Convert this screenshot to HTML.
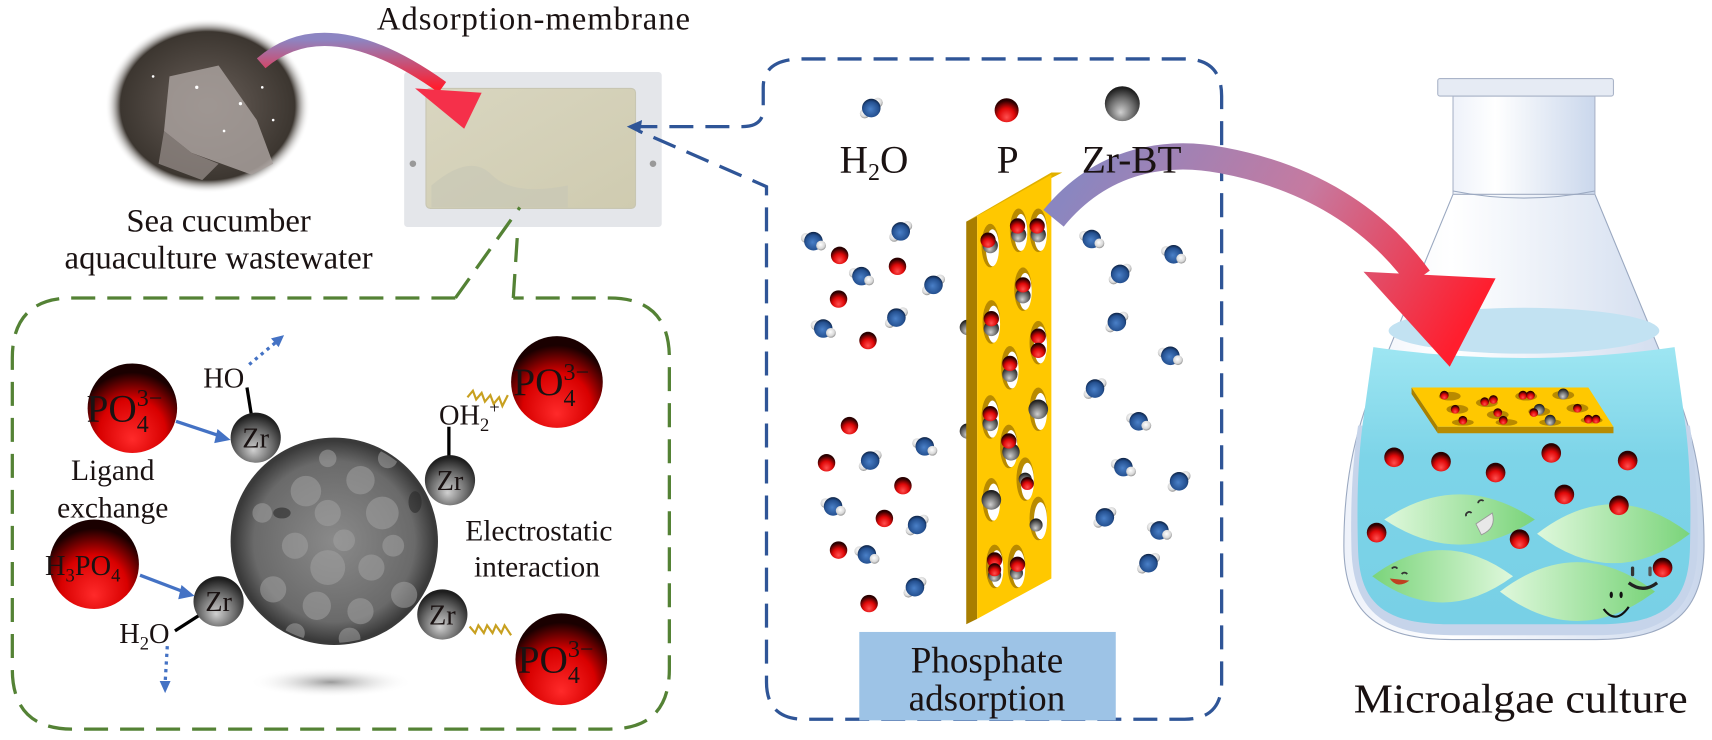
<!DOCTYPE html>
<html><head><meta charset="utf-8"><style>
html,body{margin:0;padding:0;background:#fff;}
svg{display:block;}
text{font-family:"Liberation Serif",serif;fill:#1a1212;}
</style></head><body>
<svg width="1712" height="740" viewBox="0 0 1568 678" xmlns="http://www.w3.org/2000/svg">
<defs>
<radialGradient id="red" cx="0.5" cy="0.7" r="0.6" fx="0.5" fy="0.8">
<stop offset="0" stop-color="#ff5050"/><stop offset="0.55" stop-color="#e00808"/><stop offset="1" stop-color="#2a0000"/></radialGradient>
<radialGradient id="bigred" cx="0.5" cy="0.72" r="0.62" fx="0.5" fy="0.85">
<stop offset="0" stop-color="#ff2a2a"/><stop offset="0.6" stop-color="#d80000"/><stop offset="1" stop-color="#1a0000"/></radialGradient>
<radialGradient id="gray" cx="0.5" cy="0.65" r="0.6" fx="0.45" fy="0.75">
<stop offset="0" stop-color="#d0d0d0"/><stop offset="0.6" stop-color="#6a6a6a"/><stop offset="1" stop-color="#1e1e1e"/></radialGradient>
<radialGradient id="blue" cx="0.5" cy="0.6" r="0.6" fx="0.45" fy="0.55">
<stop offset="0" stop-color="#4a80c8"/><stop offset="0.7" stop-color="#245090"/><stop offset="1" stop-color="#0c2040"/></radialGradient>
<radialGradient id="white" cx="0.45" cy="0.4" r="0.6">
<stop offset="0" stop-color="#ffffff"/><stop offset="0.7" stop-color="#d8d8d8"/><stop offset="1" stop-color="#909090"/></radialGradient>
<radialGradient id="sem" cx="0.5" cy="0.5" r="0.5">
<stop offset="0" stop-color="#8a8a8a"/><stop offset="0.8" stop-color="#6a6a6a"/><stop offset="1" stop-color="#3a3a3a"/></radialGradient>
<radialGradient id="shadow" cx="0.5" cy="0.5" r="0.5">
<stop offset="0" stop-color="#9a9a9a"/><stop offset="1" stop-color="#ffffff" stop-opacity="0"/></radialGradient>
<radialGradient id="photo" cx="0.5" cy="0.5" r="0.5">
<stop offset="0" stop-color="#6a605a"/><stop offset="0.85" stop-color="#3c3630"/><stop offset="1" stop-color="#fff" stop-opacity="0"/></radialGradient>
<linearGradient id="arrow1" x1="0" y1="0" x2="0" y2="1">
<stop offset="0" stop-color="#8d85c2"/><stop offset="1" stop-color="#ff1e2e"/></linearGradient>
<linearGradient id="arrow2" gradientUnits="userSpaceOnUse" x1="1000" y1="140" x2="1320" y2="335">
<stop offset="0" stop-color="#8a86c0"/><stop offset="0.5" stop-color="#c67aa0"/><stop offset="1" stop-color="#ff1e2e"/></linearGradient>
<linearGradient id="glass" x1="0" y1="0" x2="1" y2="0">
<stop offset="0" stop-color="#eef2fa"/><stop offset="0.3" stop-color="#ffffff"/><stop offset="1" stop-color="#cad7ec"/></linearGradient>
<linearGradient id="water" x1="0" y1="0" x2="0" y2="1">
<stop offset="0" stop-color="#9ee6f2"/><stop offset="0.4" stop-color="#7dd4e8"/><stop offset="1" stop-color="#78d0e6"/></linearGradient>
<linearGradient id="leafA" x1="0" y1="0" x2="1" y2="0">
<stop offset="0" stop-color="#dff8dc"/><stop offset="1" stop-color="#7ad47a"/></linearGradient>
<linearGradient id="leafB" x1="1" y1="0" x2="0" y2="0">
<stop offset="0" stop-color="#dff8dc"/><stop offset="1" stop-color="#7ad47a"/></linearGradient>
<linearGradient id="memb" x1="0" y1="0" x2="1" y2="1">
<stop offset="0" stop-color="#d9d6c0"/><stop offset="1" stop-color="#cfcbb0"/></linearGradient>
<clipPath id="semclip"><circle cx="306" cy="496" r="93"/></clipPath>
<g id="w"><circle cx="-7" cy="-3" r="4.5" fill="url(#white)"/><circle cx="0" cy="0" r="8.5" fill="url(#blue)"/><circle cx="7" cy="4" r="4.5" fill="url(#white)"/></g>
<g id="w2"><circle cx="6" cy="-5" r="4.5" fill="url(#white)"/><circle cx="-6" cy="5" r="4.5" fill="url(#white)"/><circle cx="0" cy="0" r="8.5" fill="url(#blue)"/></g>
<circle id="p" r="8" fill="url(#red)"/>
</defs>

<!-- Top-left photo -->
<ellipse cx="190" cy="97" rx="94" ry="80" fill="url(#photo)"/>
<path d="M155,70 L200,60 L235,110 L250,150 L230,160 L175,140 L150,120 Z" fill="#a8a09c" opacity="0.85"/>
<path d="M150,120 L175,140 L200,150 L185,165 L145,150 Z" fill="#8e8682" opacity="0.8"/>
<g fill="#fff"><circle cx="180" cy="80" r="1.5"/><circle cx="220" cy="95" r="1.5"/><circle cx="240" cy="80" r="1.2"/><circle cx="250" cy="110" r="1.2"/><circle cx="140" cy="70" r="1.2"/><circle cx="205" cy="120" r="1.2"/></g>

<text x="345" y="27" font-size="30" textLength="287">Adsorption-membrane</text>

<!-- membrane -->
<rect x="370" y="66" width="236" height="142" fill="#e4e6ea" rx="3"/>
<rect x="390" y="81" width="192" height="110" fill="url(#memb)" rx="4" stroke="#c8c6b2"/>
<path d="M395,170 Q430,140 450,160 T520,170 L520,190 L395,190 Z" fill="#c6c7b6" opacity="0.6"/>
<circle cx="378" cy="150" r="3" fill="#999"/><circle cx="598" cy="150" r="3" fill="#999"/>

<!-- pink arrow -->
<path d="M239,58 Q300,5 405,80" fill="none" stroke="url(#arrow1)" stroke-width="12"/>
<polygon points="380,81 441,85 425,118" fill="#f5304a"/>

<text x="200" y="212" font-size="30" text-anchor="middle">Sea cucumber</text>
<text x="200" y="246" font-size="30" text-anchor="middle">aquaculture wastewater</text>

<!-- green dashed box -->
<g fill="none" stroke="#548235" stroke-width="3" stroke-dasharray="22,11">
<path d="M417,273 L66,273 Q11,273 11,328 L11,613 Q11,668 66,668 L558,668 Q613,668 613,613 L613,328 Q613,273 558,273 L470,273"/>
<path d="M417,273 L476,190"/>
<path d="M470,273 L474,212"/>
</g>

<!-- SEM sphere -->
<ellipse cx="303" cy="625" rx="75" ry="14" fill="url(#shadow)"/>
<circle cx="306" cy="496" r="95" fill="#3a3a3a"/>
<circle cx="306" cy="496" r="92" fill="url(#sem)"/>
<g clip-path="url(#semclip)" fill="#a0a0a0" opacity="0.55">
<circle cx="280" cy="450" r="14"/><circle cx="300" cy="470" r="12"/><circle cx="330" cy="440" r="13"/><circle cx="350" cy="470" r="15"/><circle cx="270" cy="500" r="12"/><circle cx="300" cy="520" r="16"/><circle cx="340" cy="520" r="12"/><circle cx="360" cy="500" r="10"/><circle cx="250" cy="540" r="12"/><circle cx="290" cy="555" r="13"/><circle cx="330" cy="560" r="12"/><circle cx="370" cy="545" r="12"/><circle cx="240" cy="470" r="9"/><circle cx="315" cy="495" r="10"/><circle cx="355" cy="420" r="9"/><circle cx="300" cy="420" r="8"/><circle cx="270" cy="580" r="9"/><circle cx="320" cy="585" r="10"/>
</g>
<g clip-path="url(#semclip)" fill="#2a2a2a" opacity="0.6"><ellipse cx="258" cy="470" rx="8" ry="5"/><ellipse cx="380" cy="460" rx="6" ry="10"/></g>

<!-- Zr spheres and bonds -->
<g stroke="#000" stroke-width="3">
<line x1="226" y1="355" x2="230" y2="380"/>
<line x1="411" y1="391" x2="411" y2="420"/>
<line x1="185" y1="562" x2="160" y2="578"/>
</g>
<g>
<circle cx="234" cy="401" r="23" fill="url(#gray)"/>
<circle cx="412" cy="440" r="23" fill="url(#gray)"/>
<circle cx="200" cy="551" r="23" fill="url(#gray)"/>
<circle cx="405" cy="563" r="23" fill="url(#gray)"/>
</g>
<g font-size="26" text-anchor="middle">
<text x="234" y="410">Zr</text><text x="412" y="449">Zr</text><text x="200" y="560">Zr</text><text x="405" y="572">Zr</text>
</g>
<text x="186" y="355" font-size="26">HO</text>
<text x="402" y="389" font-size="26">OH<tspan font-size="17" dy="6">2</tspan><tspan font-size="17" dy="-16">+</tspan></text>
<text x="109" y="589" font-size="26">H<tspan font-size="17" dy="6">2</tspan><tspan dy="-6">O</tspan></text>

<!-- big red spheres -->
<circle cx="121" cy="374" r="41" fill="url(#bigred)"/>
<circle cx="86" cy="517" r="41" fill="url(#bigred)"/>
<circle cx="510" cy="350" r="42" fill="url(#bigred)"/>
<circle cx="514" cy="604" r="42" fill="url(#bigred)"/>
<text x="79" y="386" font-size="36">PO<tspan font-size="22" dy="10">4</tspan><tspan font-size="22" dx="-11" dy="-24">3−</tspan></text>
<text x="470" y="362" font-size="36">PO<tspan font-size="22" dy="10">4</tspan><tspan font-size="22" dx="-11" dy="-24">3−</tspan></text>
<text x="474" y="616" font-size="36">PO<tspan font-size="22" dy="10">4</tspan><tspan font-size="22" dx="-11" dy="-24">3−</tspan></text>
<text x="41" y="527" font-size="26">H<tspan font-size="17" dy="6">3</tspan><tspan dy="-6">PO</tspan><tspan font-size="17" dy="6">4</tspan></text>

<!-- blue arrows -->
<g stroke="#4472c4" stroke-width="3" fill="#4472c4">
<line x1="161" y1="386" x2="203" y2="400"/>
<line x1="128" y1="527" x2="170" y2="543"/>
<line x1="228" y1="334" x2="252" y2="314" stroke-dasharray="3,4"/>
<line x1="153" y1="592" x2="151" y2="626" stroke-dasharray="3,4"/>
</g>
<g fill="#4472c4">
<polygon points="211,403 199,393 196,406"/>
<polygon points="178,546 166,536 163,549"/>
<polygon points="260,307 248,310 255,318"/>
<polygon points="151,635 146,624 156,624"/>
</g>
<!-- wavy -->
<g fill="none" stroke="#c8a020" stroke-width="2">
<path d="M428,364 l5,-6 l3,8 l5,-6 l3,8 l5,-6 l3,8 l5,-6 l3,8 l5,-10"/>
<path d="M430,574 l5,6 l3,-7 l5,7 l3,-7 l5,7 l3,-7 l5,7 l3,-7 l6,9"/>
</g>

<text x="103" y="440" font-size="27" text-anchor="middle">Ligand</text>
<text x="103" y="474" font-size="27" text-anchor="middle">exchange</text>
<text x="426" y="495" font-size="27">Electrostatic</text>
<text x="434" y="528" font-size="27">interaction</text>

<!-- blue dashed box -->
<g fill="none" stroke="#2f5597" stroke-width="3" stroke-dasharray="22,11">
<path d="M580,116 L680,116 Q699,116 699,100 L699,80 Q699,54 735,54 L1085,54 Q1119,54 1119,88 L1119,625 Q1119,659 1085,659 L737,659 Q702,659 702,625 L702,171 L585,120"/>
</g>
<polygon points="574,116 588,110 586,122" fill="#2f5597"/>

<!-- legend -->
<g transform="translate(798,99)"><use href="#w2"/></g>
<circle cx="922" cy="101" r="11" fill="url(#red)"/>
<circle cx="1028" cy="95" r="16" fill="url(#gray)"/>
<text x="769" y="158" font-size="36">H<tspan font-size="22" dy="7">2</tspan><tspan dy="-7">O</tspan></text>
<text x="913" y="158" font-size="36">P</text>

<!-- molecules -->
<g>
<use href="#w" x="745" y="221"/><use href="#w2" x="825" y="212"/><use href="#w" x="789" y="253"/><use href="#w2" x="855" y="261"/><use href="#w" x="754" y="301"/><use href="#w2" x="821" y="291"/><use href="#w" x="847" y="409"/><use href="#w2" x="797" y="422"/><use href="#w" x="763" y="464"/><use href="#w2" x="840" y="481"/><use href="#w" x="794" y="508"/><use href="#w2" x="838" y="538"/>
<use href="#w" x="1000" y="219"/><use href="#w2" x="1026" y="251"/><use href="#w" x="1075" y="233"/><use href="#w2" x="1023" y="295"/><use href="#w" x="1072" y="326"/><use href="#w2" x="1003" y="356"/><use href="#w" x="1043" y="386"/><use href="#w2" x="1080" y="441"/><use href="#w" x="1029" y="428"/><use href="#w2" x="1012" y="474"/><use href="#w" x="1062" y="486"/><use href="#w2" x="1052" y="516"/>
<use href="#p" x="769" y="234"/><use href="#p" x="822" y="244"/><use href="#p" x="768" y="274"/><use href="#p" x="795" y="312"/><use href="#p" x="778" y="390"/><use href="#p" x="757" y="424"/><use href="#p" x="827" y="445"/><use href="#p" x="810" y="475"/><use href="#p" x="768" y="504"/><use href="#p" x="796" y="553"/>
<circle cx="886" cy="300" r="7" fill="url(#gray)"/><circle cx="886" cy="395" r="7" fill="url(#gray)"/>
</g>

<!-- yellow plate -->
<polygon points="885,203 895,198 895,567 885,572" fill="#a87e00"/>
<polygon points="885,203 963,158 973,158 895,198" fill="#e0b000"/>
<polygon points="895,198 963,160 963,530 895,567" fill="#ffc800"/>
<g>
<g transform="translate(907,225)"><ellipse rx="8" ry="20" fill="#b88a00"/><ellipse cx="2" cy="2" rx="6" ry="17" fill="#fff"/><circle cx="0" cy="0" r="7" fill="url(#gray)"/><circle cx="-2" cy="-5" r="7" fill="url(#red)"/></g>
<g transform="translate(933,211)"><ellipse rx="8" ry="20" fill="#b88a00"/><ellipse cx="2" cy="2" rx="6" ry="17" fill="#fff"/><circle cx="0" cy="4" r="7" fill="url(#gray)"/><circle cx="-1" cy="-4" r="7" fill="url(#red)"/></g>
<g transform="translate(951,211)"><ellipse rx="8" ry="20" fill="#b88a00"/><ellipse cx="2" cy="2" rx="6" ry="17" fill="#fff"/><circle cx="0" cy="4" r="7" fill="url(#gray)"/><circle cx="-1" cy="-4" r="7" fill="url(#red)"/></g>
<g transform="translate(908,295)"><ellipse rx="8" ry="20" fill="#b88a00"/><ellipse cx="2" cy="2" rx="6" ry="17" fill="#fff"/><circle cx="0" cy="6" r="7" fill="url(#gray)"/><circle cx="0" cy="-3" r="7" fill="url(#red)"/></g>
<g transform="translate(937,265)"><ellipse rx="8" ry="20" fill="#b88a00"/><ellipse cx="2" cy="2" rx="6" ry="17" fill="#fff"/><circle cx="0" cy="6" r="7" fill="url(#gray)"/><circle cx="0" cy="-4" r="7" fill="url(#red)"/></g>
<g transform="translate(951,314)"><ellipse rx="8" ry="20" fill="#b88a00"/><ellipse cx="2" cy="2" rx="6" ry="17" fill="#fff"/><circle cx="0" cy="-6" r="7" fill="url(#red)"/><circle cx="0" cy="7" r="7" fill="url(#red)"/></g>
<g transform="translate(925,337)"><ellipse rx="8" ry="20" fill="#b88a00"/><ellipse cx="2" cy="2" rx="6" ry="17" fill="#fff"/><circle cx="0" cy="6" r="7" fill="url(#gray)"/><circle cx="0" cy="-4" r="7" fill="url(#red)"/></g>
<g transform="translate(907,382)"><ellipse rx="8" ry="20" fill="#b88a00"/><ellipse cx="2" cy="2" rx="6" ry="17" fill="#fff"/><circle cx="0" cy="6" r="7" fill="url(#gray)"/><circle cx="0" cy="-3" r="7" fill="url(#red)"/></g>
<g transform="translate(951,375)"><ellipse rx="8" ry="20" fill="#b88a00"/><ellipse cx="2" cy="2" rx="6" ry="17" fill="#fff"/><circle cx="0" cy="0" r="9" fill="url(#gray)"/></g>
<g transform="translate(924,409)"><ellipse rx="8" ry="20" fill="#b88a00"/><ellipse cx="2" cy="2" rx="6" ry="17" fill="#fff"/><circle cx="2" cy="5" r="8" fill="url(#gray)"/><circle cx="0" cy="-5" r="7" fill="url(#red)"/></g>
<g transform="translate(939,439)"><ellipse rx="8" ry="20" fill="#b88a00"/><ellipse cx="2" cy="2" rx="6" ry="17" fill="#fff"/><circle cx="0" cy="0" r="6" fill="url(#gray)"/><circle cx="2" cy="4" r="6" fill="url(#red)"/></g>
<g transform="translate(908,458)"><ellipse rx="8" ry="20" fill="#b88a00"/><ellipse cx="2" cy="2" rx="6" ry="17" fill="#fff"/><circle cx="0" cy="0" r="9" fill="url(#gray)"/></g>
<g transform="translate(951,475)"><ellipse rx="8" ry="20" fill="#b88a00"/><ellipse cx="2" cy="2" rx="6" ry="17" fill="#fff"/><circle cx="-2" cy="6" r="6" fill="url(#gray)"/></g>
<g transform="translate(911,519)"><ellipse rx="8" ry="20" fill="#b88a00"/><ellipse cx="2" cy="2" rx="6" ry="17" fill="#fff"/><circle cx="0" cy="8" r="6" fill="url(#gray)"/><circle cx="0" cy="-6" r="7" fill="url(#red)"/><circle cx="0" cy="3" r="6" fill="url(#red)"/></g>
<g transform="translate(931,519)"><ellipse rx="8" ry="20" fill="#b88a00"/><ellipse cx="2" cy="2" rx="6" ry="17" fill="#fff"/><circle cx="0" cy="6" r="6" fill="url(#gray)"/><circle cx="1" cy="-2" r="7" fill="url(#red)"/></g>
</g>

<!-- Phosphate adsorption -->
<rect x="787" y="579" width="235" height="81" fill="#9dc3e6"/>
<text x="904" y="616" font-size="34" text-anchor="middle">Phosphate</text>
<text x="904" y="651" font-size="34" text-anchor="middle">adsorption</text>

<!-- Flask -->
<path d="M1331,178 L1262,345 C1238,400 1231,450 1231,500 C1231,560 1260,586 1330,586 L1462,586 C1532,586 1561,560 1561,500 C1561,450 1554,400 1530,345 L1461,178 Z" fill="url(#glass)" stroke="#9aa8c0" stroke-width="1"/>
<path d="M1244,390 C1238,430 1237,470 1238,505 C1240,560 1268,582 1330,582 L1462,582 C1524,582 1553,560 1555,505 C1556,470 1554,430 1548,390 Z" fill="#c6d4ea"/>
<path d="M1258,318 L1248,390 C1243,430 1243,470 1244,505 C1246,555 1270,572 1330,572 L1462,572 C1522,572 1546,555 1548,505 C1549,470 1549,430 1544,390 L1534,318 Q1396,338 1258,318 Z" fill="url(#water)"/>
<ellipse cx="1396" cy="303" rx="124" ry="21" fill="#c2e2f2"/>
<rect x="1331" y="88" width="130" height="90" fill="url(#glass)" stroke="#aab4c8"/>
<path d="M1331,175 Q1396,188 1461,175" fill="none" stroke="#9aa8c0"/>
<rect x="1317" y="72" width="161" height="16" rx="2" fill="#e6ebf4" stroke="#aab4c8"/>

<!-- plate in flask -->
<polygon points="1293,355 1293,361 1317,397 1317,391" fill="#a88000"/>
<polygon points="1317,391 1478,391 1478,397 1317,397" fill="#b88c00"/>
<polygon points="1293,355 1455,355 1478,391 1317,391" fill="#ffc800"/>
<g fill="#b88a00">
<ellipse cx="1328" cy="363" rx="10" ry="4"/><ellipse cx="1362" cy="369" rx="10" ry="4"/><ellipse cx="1398" cy="363" rx="10" ry="4"/><ellipse cx="1432" cy="362" rx="10" ry="4"/>
<ellipse cx="1335" cy="375" rx="10" ry="4"/><ellipse cx="1372" cy="380" rx="10" ry="4"/><ellipse cx="1410" cy="377" rx="10" ry="4"/><ellipse cx="1445" cy="374" rx="10" ry="4"/>
<ellipse cx="1340" cy="387" rx="10" ry="3"/><ellipse cx="1380" cy="387" rx="10" ry="3"/><ellipse cx="1420" cy="387" rx="10" ry="3"/><ellipse cx="1458" cy="385" rx="10" ry="3"/>
</g>
<g>
<circle cx="1323" cy="362" r="4" fill="url(#red)"/><circle cx="1360" cy="368" r="4" fill="url(#red)"/><circle cx="1368" cy="366" r="4" fill="url(#red)"/><circle cx="1395" cy="362" r="4" fill="url(#red)"/><circle cx="1402" cy="362" r="4" fill="url(#red)"/><circle cx="1432" cy="361" r="5" fill="url(#gray)"/>
<circle cx="1333" cy="375" r="4" fill="url(#red)"/><circle cx="1372" cy="378" r="4" fill="url(#red)"/><circle cx="1410" cy="375" r="5" fill="url(#gray)"/><circle cx="1405" cy="378" r="4" fill="url(#red)"/><circle cx="1445" cy="374" r="4" fill="url(#red)"/>
<circle cx="1340" cy="385" r="4" fill="url(#red)"/><circle cx="1377" cy="385" r="4" fill="url(#red)"/><circle cx="1420" cy="385" r="5" fill="url(#gray)"/><circle cx="1455" cy="384" r="4" fill="url(#red)"/><circle cx="1462" cy="384" r="4" fill="url(#red)"/>
</g>

<!-- leaves -->
<path d="M1268,476 Q1337,430 1406,476 Q1337,522 1268,476 Z" fill="url(#leafA)"/>
<path d="M1408,489 Q1478,435 1548,489 Q1478,543 1408,489 Z" fill="url(#leafA)"/>
<path d="M1257,528 Q1321,480 1386,528 Q1321,576 1257,528 Z" fill="url(#leafB)"/>
<path d="M1374,542 Q1445,488 1516,542 Q1445,596 1374,542 Z" fill="url(#leafA)"/>
<g fill="none" stroke="#333" stroke-width="1.6">
<path d="M1343,473 a3,3 0 0 1 5,-3"/><path d="M1354,461 a3,3 0 0 1 5,-2"/>
<path d="M1275,521 a3,3 0 0 1 5,0"/><path d="M1284,526 a3,3 0 0 1 5,0"/>
<path d="M1469,558 Q1480,573 1492,556" stroke="#111" stroke-width="2"/>
<path d="M1492,534 Q1505,544 1518,534" stroke="#222" stroke-width="3"/>
</g>
<path d="M1352,480 L1367,470 Q1371,484 1357,490 Z" fill="#e8e8e8" stroke="#999" stroke-width="0.8"/>
<path d="M1273,530 Q1280,540 1291,532 Z" fill="#c04020"/>
<g fill="#111"><ellipse cx="1476" cy="545" rx="1.5" ry="3"/><ellipse cx="1485" cy="545" rx="1.5" ry="3"/><rect x="1494" y="519" width="3" height="9" rx="1.5" fill="#333"/><rect x="1510" y="519" width="3" height="9" rx="1.5" fill="#555"/></g>

<g>
<circle cx="1277" cy="419" r="9" fill="url(#red)"/><circle cx="1320" cy="423" r="9" fill="url(#red)"/><circle cx="1370" cy="433" r="9" fill="url(#red)"/><circle cx="1421" cy="415" r="9" fill="url(#red)"/><circle cx="1491" cy="422" r="9" fill="url(#red)"/><circle cx="1433" cy="453" r="9" fill="url(#red)"/><circle cx="1483" cy="463" r="9" fill="url(#red)"/><circle cx="1392" cy="494" r="9" fill="url(#red)"/><circle cx="1523" cy="520" r="9" fill="url(#red)"/><circle cx="1261" cy="488" r="9" fill="url(#red)"/>
</g>

<!-- big arrow -->
<path d="M965,200 C1010,145 1070,137 1120,147 C1200,162 1260,200 1300,255" fill="none" stroke="url(#arrow2)" stroke-width="24"/>
<polygon points="1249,249 1370,255 1328,336" fill="url(#arrow2)"/>
<text x="991" y="158" font-size="36">Zr-BT</text>

<text x="1240" y="653" font-size="38" textLength="306" lengthAdjust="spacingAndGlyphs">Microalgae culture</text>
</svg>
</body></html>
